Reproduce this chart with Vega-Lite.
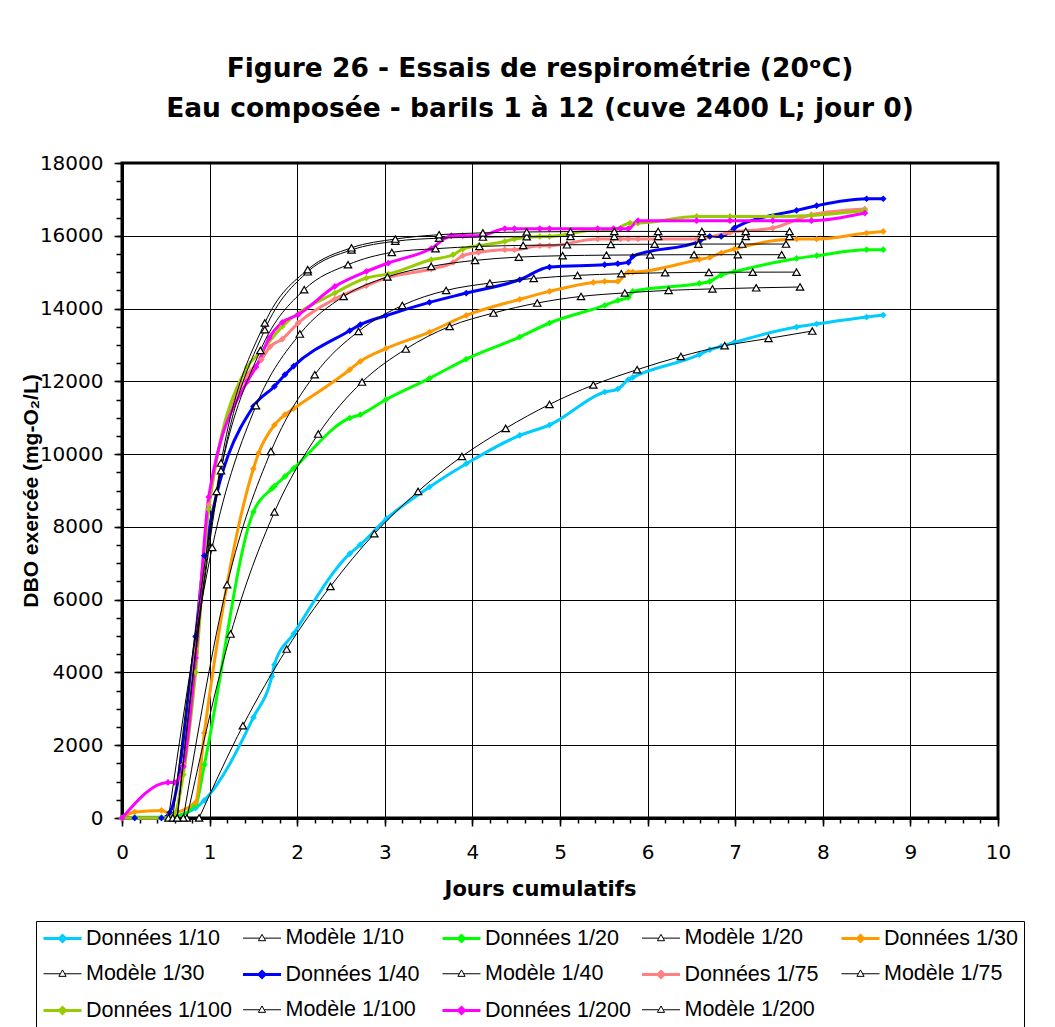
{
  "$schema": "https://vega.github.io/schema/vega-lite/v6.json",
  "width": 876,
  "height": 655,
  "autosize": {"type": "none"},
  "padding": {"left": 122, "top": 163, "right": 57, "bottom": 209},
  "background": "white",
  "title": {
    "text": ["Figure 26 - Essais de respirométrie (20ᵒC)", "Eau composée - barils 1 à 12 (cuve 2400 L; jour 0)"],
    "font": "DejaVu Sans", "fontSize": 26.5, "fontWeight": "bold", "color": "#000",
    "lineHeight": 40, "anchor": "middle", "dx": -20, "offset": 31
  },
  "config": {"view": {"stroke": "#000", "strokeWidth": 3}},
  "datasets": {
    "pts": [
      {"s":"Données 1/10","t":0,"v":0},{"s":"Données 1/10","t":0.145,"v":0},{"s":"Données 1/10","t":0.45,"v":0},{"s":"Données 1/10","t":0.545,"v":20},{"s":"Données 1/10","t":0.84,"v":275},{"s":"Données 1/10","t":0.94,"v":484},{"s":"Données 1/10","t":1.5,"v":2765},{"s":"Données 1/10","t":1.71,"v":3890},{"s":"Données 1/10","t":1.74,"v":4213},{"s":"Données 1/10","t":1.96,"v":5065},{"s":"Données 1/10","t":2.6,"v":7263},{"s":"Données 1/10","t":2.72,"v":7510},{"s":"Données 1/10","t":3.02,"v":8225},{"s":"Données 1/10","t":3.51,"v":9096},{"s":"Données 1/10","t":3.93,"v":9736},{"s":"Données 1/10","t":4.54,"v":10515},{"s":"Données 1/10","t":4.88,"v":10800},{"s":"Données 1/10","t":5.51,"v":11707},{"s":"Données 1/10","t":5.66,"v":11789},{"s":"Données 1/10","t":5.78,"v":12045},{"s":"Données 1/10","t":5.83,"v":12108},{"s":"Données 1/10","t":6.59,"v":12732},{"s":"Données 1/10","t":6.71,"v":12869},{"s":"Données 1/10","t":6.84,"v":12960},{"s":"Données 1/10","t":6.99,"v":13070},{"s":"Données 1/10","t":7.7,"v":13492},{"s":"Données 1/10","t":7.93,"v":13575},{"s":"Données 1/10","t":8.5,"v":13767},{"s":"Données 1/10","t":8.69,"v":13822},
      {"s":"Modèle 1/10","t":0.88,"v":0},{"s":"Modèle 1/10","t":1.38,"v":2536},{"s":"Modèle 1/10","t":1.88,"v":4643},{"s":"Modèle 1/10","t":2.38,"v":6365},{"s":"Modèle 1/10","t":2.88,"v":7813},{"s":"Modèle 1/10","t":3.38,"v":8976},{"s":"Modèle 1/10","t":3.88,"v":9937},{"s":"Modèle 1/10","t":4.38,"v":10707},{"s":"Modèle 1/10","t":4.88,"v":11366},{"s":"Modèle 1/10","t":5.38,"v":11899},{"s":"Modèle 1/10","t":5.88,"v":12320},{"s":"Modèle 1/10","t":6.38,"v":12685},{"s":"Modèle 1/10","t":6.88,"v":12979},{"s":"Modèle 1/10","t":7.38,"v":13179},{"s":"Modèle 1/10","t":7.88,"v":13382},
      {"s":"Données 1/20","t":0,"v":0},{"s":"Données 1/20","t":0.145,"v":20},{"s":"Données 1/20","t":0.45,"v":20},{"s":"Données 1/20","t":0.545,"v":0},{"s":"Données 1/20","t":0.84,"v":350},{"s":"Données 1/20","t":0.94,"v":1465},{"s":"Données 1/20","t":1.5,"v":8409},{"s":"Données 1/20","t":1.71,"v":9050},{"s":"Données 1/20","t":1.74,"v":9120},{"s":"Données 1/20","t":1.86,"v":9388},{"s":"Données 1/20","t":1.96,"v":9610},{"s":"Données 1/20","t":2.6,"v":10992},{"s":"Données 1/20","t":2.72,"v":11083},{"s":"Données 1/20","t":3.01,"v":11495},{"s":"Données 1/20","t":3.51,"v":12081},{"s":"Données 1/20","t":3.93,"v":12613},{"s":"Données 1/20","t":4.54,"v":13218},{"s":"Données 1/20","t":4.88,"v":13603},{"s":"Données 1/20","t":5.51,"v":14087},{"s":"Données 1/20","t":5.66,"v":14224},{"s":"Données 1/20","t":5.78,"v":14306},{"s":"Données 1/20","t":5.83,"v":14471},{"s":"Données 1/20","t":6.59,"v":14690},{"s":"Données 1/20","t":6.71,"v":14746},{"s":"Données 1/20","t":6.84,"v":14921},{"s":"Données 1/20","t":6.99,"v":15012},{"s":"Données 1/20","t":7.7,"v":15378},{"s":"Données 1/20","t":7.93,"v":15452},{"s":"Données 1/20","t":8.5,"v":15617},{"s":"Données 1/20","t":8.69,"v":15617},
      {"s":"Modèle 1/20","t":0.74,"v":0},{"s":"Modèle 1/20","t":1.24,"v":5056},{"s":"Modèle 1/20","t":1.74,"v":8409},{"s":"Modèle 1/20","t":2.24,"v":10552},{"s":"Modèle 1/20","t":2.74,"v":11981},{"s":"Modèle 1/20","t":3.24,"v":12888},{"s":"Modèle 1/20","t":3.74,"v":13509},{"s":"Modèle 1/20","t":4.24,"v":13877},{"s":"Modèle 1/20","t":4.74,"v":14152},{"s":"Modèle 1/20","t":5.24,"v":14334},{"s":"Modèle 1/20","t":5.74,"v":14430},{"s":"Modèle 1/20","t":6.24,"v":14500},{"s":"Modèle 1/20","t":6.74,"v":14540},{"s":"Modèle 1/20","t":7.24,"v":14570},{"s":"Modèle 1/20","t":7.74,"v":14592},
      {"s":"Données 1/30","t":0,"v":0},{"s":"Données 1/30","t":0.145,"v":165},{"s":"Données 1/30","t":0.45,"v":209},{"s":"Données 1/30","t":0.545,"v":130},{"s":"Données 1/30","t":0.84,"v":429},{"s":"Données 1/30","t":0.94,"v":2336},{"s":"Données 1/30","t":1.5,"v":9599},{"s":"Données 1/30","t":1.56,"v":10030},{"s":"Données 1/30","t":1.74,"v":10800},{"s":"Données 1/30","t":1.86,"v":11083},{"s":"Données 1/30","t":1.96,"v":11250},{"s":"Données 1/30","t":2.6,"v":12320},{"s":"Données 1/30","t":2.72,"v":12548},{"s":"Données 1/30","t":3.01,"v":12897},{"s":"Données 1/30","t":3.51,"v":13355},{"s":"Données 1/30","t":3.93,"v":13812},{"s":"Données 1/30","t":4.54,"v":14252},{"s":"Données 1/30","t":4.88,"v":14471},{"s":"Données 1/30","t":5.38,"v":14719},{"s":"Données 1/30","t":5.51,"v":14746},{"s":"Données 1/30","t":5.66,"v":14746},{"s":"Données 1/30","t":5.78,"v":15004},{"s":"Données 1/30","t":5.83,"v":15004},{"s":"Données 1/30","t":6.59,"v":15350},{"s":"Données 1/30","t":6.71,"v":15406},{"s":"Données 1/30","t":6.84,"v":15526},{"s":"Données 1/30","t":6.99,"v":15636},{"s":"Données 1/30","t":7.7,"v":15911},{"s":"Données 1/30","t":7.93,"v":15911},{"s":"Données 1/30","t":8.5,"v":16076},{"s":"Données 1/30","t":8.69,"v":16120},
      {"s":"Modèle 1/30","t":0.7,"v":0},{"s":"Modèle 1/30","t":1.2,"v":6411},{"s":"Modèle 1/30","t":1.7,"v":10075},{"s":"Modèle 1/30","t":2.2,"v":12182},{"s":"Modèle 1/30","t":2.7,"v":13373},{"s":"Modèle 1/30","t":3.2,"v":14087},{"s":"Modèle 1/30","t":3.7,"v":14498},{"s":"Modèle 1/30","t":4.2,"v":14700},{"s":"Modèle 1/30","t":4.7,"v":14828},{"s":"Modèle 1/30","t":5.2,"v":14911},{"s":"Modèle 1/30","t":5.7,"v":14957},{"s":"Modèle 1/30","t":6.2,"v":14985},{"s":"Modèle 1/30","t":6.7,"v":14995},{"s":"Modèle 1/30","t":7.2,"v":15000},{"s":"Modèle 1/30","t":7.7,"v":15002},
      {"s":"Données 1/40","t":0,"v":0},{"s":"Données 1/40","t":0.145,"v":0},{"s":"Données 1/40","t":0.45,"v":0},{"s":"Données 1/40","t":0.545,"v":150},{"s":"Données 1/40","t":0.84,"v":4991},{"s":"Données 1/40","t":0.94,"v":7208},{"s":"Données 1/40","t":1.5,"v":11311},{"s":"Données 1/40","t":1.74,"v":11860},{"s":"Données 1/40","t":1.86,"v":12182},{"s":"Données 1/40","t":1.96,"v":12420},{"s":"Données 1/40","t":2.6,"v":13392},{"s":"Données 1/40","t":2.72,"v":13557},{"s":"Données 1/40","t":3.01,"v":13803},{"s":"Données 1/40","t":3.51,"v":14170},{"s":"Données 1/40","t":3.93,"v":14426},{"s":"Données 1/40","t":4.54,"v":14792},{"s":"Données 1/40","t":4.88,"v":15141},{"s":"Données 1/40","t":5.51,"v":15205},{"s":"Données 1/40","t":5.66,"v":15232},{"s":"Données 1/40","t":5.78,"v":15268},{"s":"Données 1/40","t":5.83,"v":15433},{"s":"Données 1/40","t":6.59,"v":15845},{"s":"Données 1/40","t":6.71,"v":15983},{"s":"Données 1/40","t":6.84,"v":15983},{"s":"Données 1/40","t":6.99,"v":16213},{"s":"Données 1/40","t":7.7,"v":16697},{"s":"Données 1/40","t":7.93,"v":16826},{"s":"Données 1/40","t":8.5,"v":17018},{"s":"Données 1/40","t":8.69,"v":17018},
      {"s":"Modèle 1/40","t":0.53,"v":0},{"s":"Modèle 1/40","t":1.03,"v":7437},{"s":"Modèle 1/40","t":1.53,"v":11330},{"s":"Modèle 1/40","t":2.03,"v":13300},{"s":"Modèle 1/40","t":2.53,"v":14334},{"s":"Modèle 1/40","t":3.03,"v":14870},{"s":"Modèle 1/40","t":3.53,"v":15159},{"s":"Modèle 1/40","t":4.03,"v":15324},{"s":"Modèle 1/40","t":4.53,"v":15415},{"s":"Modèle 1/40","t":5.03,"v":15452},{"s":"Modèle 1/40","t":5.53,"v":15468},{"s":"Modèle 1/40","t":6.03,"v":15476},{"s":"Modèle 1/40","t":6.53,"v":15480},{"s":"Modèle 1/40","t":7.03,"v":15480},{"s":"Modèle 1/40","t":7.53,"v":15480},
      {"s":"Données 1/75","t":0,"v":0},{"s":"Données 1/75","t":0.525,"v":0},{"s":"Données 1/75","t":0.6,"v":0},{"s":"Données 1/75","t":0.7,"v":1465},{"s":"Données 1/75","t":0.84,"v":4643},{"s":"Données 1/75","t":0.99,"v":8600},{"s":"Données 1/75","t":1.43,"v":12182},{"s":"Données 1/75","t":1.59,"v":12590},{"s":"Données 1/75","t":1.69,"v":12950},{"s":"Données 1/75","t":1.83,"v":13160},{"s":"Données 1/75","t":2.01,"v":13600},{"s":"Données 1/75","t":2.43,"v":14262},{"s":"Données 1/75","t":2.79,"v":14628},{"s":"Données 1/75","t":3.04,"v":14856},{"s":"Données 1/75","t":3.53,"v":15086},{"s":"Données 1/75","t":3.78,"v":15268},{"s":"Données 1/75","t":3.89,"v":15452},{"s":"Données 1/75","t":4.07,"v":15543},{"s":"Données 1/75","t":4.37,"v":15617},{"s":"Données 1/75","t":4.48,"v":15617},{"s":"Données 1/75","t":4.77,"v":15727},{"s":"Données 1/75","t":4.88,"v":15727},{"s":"Données 1/75","t":5.43,"v":15911},{"s":"Données 1/75","t":5.61,"v":15911},{"s":"Données 1/75","t":5.69,"v":15911},{"s":"Données 1/75","t":5.78,"v":15911},{"s":"Données 1/75","t":5.89,"v":15911},{"s":"Données 1/75","t":6.56,"v":15911},{"s":"Données 1/75","t":6.94,"v":16093},{"s":"Données 1/75","t":7.43,"v":16213},{"s":"Données 1/75","t":7.87,"v":16579},{"s":"Données 1/75","t":8.48,"v":16735},
      {"s":"Modèle 1/75","t":0.58,"v":0},{"s":"Modèle 1/75","t":1.08,"v":8975},{"s":"Modèle 1/75","t":1.58,"v":12850},{"s":"Modèle 1/75","t":2.08,"v":14518},{"s":"Modèle 1/75","t":2.58,"v":15205},{"s":"Modèle 1/75","t":3.08,"v":15543},{"s":"Modèle 1/75","t":3.58,"v":15645},{"s":"Modèle 1/75","t":4.08,"v":15708},{"s":"Modèle 1/75","t":4.58,"v":15736},{"s":"Modèle 1/75","t":5.08,"v":15752},{"s":"Modèle 1/75","t":5.58,"v":15762},{"s":"Modèle 1/75","t":6.08,"v":15768},{"s":"Modèle 1/75","t":6.58,"v":15772},{"s":"Modèle 1/75","t":7.08,"v":15773},{"s":"Modèle 1/75","t":7.58,"v":15773},
      {"s":"Données 1/100","t":0,"v":0},{"s":"Données 1/100","t":0.525,"v":0},{"s":"Données 1/100","t":0.6,"v":100},{"s":"Données 1/100","t":0.7,"v":1190},{"s":"Données 1/100","t":0.84,"v":4002},{"s":"Données 1/100","t":0.99,"v":8491},{"s":"Données 1/100","t":1.43,"v":12393},{"s":"Données 1/100","t":1.59,"v":12823},{"s":"Données 1/100","t":1.83,"v":13509},{"s":"Données 1/100","t":2.43,"v":14427},{"s":"Données 1/100","t":2.79,"v":14839},{"s":"Données 1/100","t":3.04,"v":14949},{"s":"Données 1/100","t":3.53,"v":15342},{"s":"Données 1/100","t":3.78,"v":15480},{"s":"Données 1/100","t":3.89,"v":15636},{"s":"Données 1/100","t":4.07,"v":15727},{"s":"Données 1/100","t":4.37,"v":15845},{"s":"Données 1/100","t":4.48,"v":15911},{"s":"Données 1/100","t":4.77,"v":15983},{"s":"Données 1/100","t":4.88,"v":15983},{"s":"Données 1/100","t":5.43,"v":16166},{"s":"Données 1/100","t":5.61,"v":16166},{"s":"Données 1/100","t":5.8,"v":16350},{"s":"Données 1/100","t":5.89,"v":16350},{"s":"Données 1/100","t":6.56,"v":16532},{"s":"Données 1/100","t":6.94,"v":16532},{"s":"Données 1/100","t":7.43,"v":16532},{"s":"Données 1/100","t":7.87,"v":16560},{"s":"Données 1/100","t":8.48,"v":16697},
      {"s":"Modèle 1/100","t":0.63,"v":0},{"s":"Modèle 1/100","t":1.13,"v":9544},{"s":"Modèle 1/100","t":1.63,"v":13418},{"s":"Modèle 1/100","t":2.12,"v":15010},{"s":"Modèle 1/100","t":2.62,"v":15610},{"s":"Modèle 1/100","t":3.12,"v":15850},{"s":"Modèle 1/100","t":3.62,"v":15935},{"s":"Modèle 1/100","t":4.12,"v":15965},{"s":"Modèle 1/100","t":4.62,"v":15975},{"s":"Modèle 1/100","t":5.12,"v":15980},{"s":"Modèle 1/100","t":5.62,"v":15983},{"s":"Modèle 1/100","t":6.12,"v":15983},{"s":"Modèle 1/100","t":6.62,"v":15983},{"s":"Modèle 1/100","t":7.12,"v":15983},{"s":"Modèle 1/100","t":7.62,"v":15983},
      {"s":"Données 1/200","t":0,"v":0},{"s":"Données 1/200","t":0.525,"v":979},{"s":"Données 1/200","t":0.6,"v":979},{"s":"Données 1/200","t":0.7,"v":1418},{"s":"Données 1/200","t":0.84,"v":4397},{"s":"Données 1/200","t":0.99,"v":8821},{"s":"Données 1/200","t":1.43,"v":11998},{"s":"Données 1/200","t":1.53,"v":12393},{"s":"Données 1/200","t":1.68,"v":13190},{"s":"Données 1/200","t":1.83,"v":13619},{"s":"Données 1/200","t":2.01,"v":13831},{"s":"Données 1/200","t":2.43,"v":14609},{"s":"Données 1/200","t":2.79,"v":15021},{"s":"Données 1/200","t":3.04,"v":15251},{"s":"Données 1/200","t":3.53,"v":15650},{"s":"Données 1/200","t":3.76,"v":16002},{"s":"Données 1/200","t":3.89,"v":16002},{"s":"Données 1/200","t":4.1,"v":16002},{"s":"Données 1/200","t":4.37,"v":16194},{"s":"Données 1/200","t":4.48,"v":16194},{"s":"Données 1/200","t":4.77,"v":16194},{"s":"Données 1/200","t":4.88,"v":16194},{"s":"Données 1/200","t":5.43,"v":16194},{"s":"Données 1/200","t":5.61,"v":16194},{"s":"Données 1/200","t":5.69,"v":16194},{"s":"Données 1/200","t":5.78,"v":16194},{"s":"Données 1/200","t":5.89,"v":16414},{"s":"Données 1/200","t":6.56,"v":16414},{"s":"Données 1/200","t":6.94,"v":16414},{"s":"Données 1/200","t":7.43,"v":16414},{"s":"Données 1/200","t":7.87,"v":16414},{"s":"Données 1/200","t":8.48,"v":16625},
      {"s":"Modèle 1/200","t":0.63,"v":0},{"s":"Modèle 1/200","t":1.13,"v":9755},{"s":"Modèle 1/200","t":1.63,"v":13603},{"s":"Modèle 1/200","t":2.12,"v":15070},{"s":"Modèle 1/200","t":2.62,"v":15670},{"s":"Modèle 1/200","t":3.12,"v":15910},{"s":"Modèle 1/200","t":3.62,"v":16030},{"s":"Modèle 1/200","t":4.12,"v":16080},{"s":"Modèle 1/200","t":4.62,"v":16105},{"s":"Modèle 1/200","t":5.12,"v":16115},{"s":"Modèle 1/200","t":5.62,"v":16120},{"s":"Modèle 1/200","t":6.12,"v":16120},{"s":"Modèle 1/200","t":6.62,"v":16120},{"s":"Modèle 1/200","t":7.12,"v":16120},{"s":"Modèle 1/200","t":7.62,"v":16120}
    ]
  },
  "data": {"name": "pts"},
  "resolve": {"scale": {"x": "independent", "y": "independent"}},
  "layer": [
    {
      "transform": [{"filter": "indexof(datum.s, 'Don') === 0"}],
      "mark": {"type": "line", "strokeWidth": 3, "interpolate": "monotone"},
      "encoding": {
        "x": {"field": "t", "type": "quantitative", "scale": {"domain": [0, 10], "nice": false, "zero": false},
          "axis": {"grid": true, "gridColor": "#000", "gridWidth": 1, "tickCount": 10, "domainColor": "#000", "domainWidth": 3,
            "tickColor": "#000", "tickWidth": 1.5, "tickSize": 8, "labelFont": "DejaVu Sans", "labelFontSize": 20, "labelColor": "#000",
            "labelPadding": 16, "labelFlush": false, "format": "d",
            "title": "Jours cumulatifs", "titleFont": "DejaVu Sans", "titleFontSize": 21, "titleFontWeight": "bold",
            "titleColor": "#000", "titleX": 418, "titleY": 77, "titleBaseline": "alphabetic"}},
        "y": {"field": "v", "type": "quantitative", "scale": {"domain": [0, 18000], "nice": false, "zero": false},
          "axis": {"grid": true, "gridColor": "#000", "gridWidth": 1, "tickCount": 9, "domainColor": "#000", "domainWidth": 3,
            "tickColor": "#000", "tickWidth": 1.5, "tickSize": 8, "labelFont": "DejaVu Sans", "labelFontSize": 20, "labelColor": "#000",
            "labelPadding": 11, "labelFlush": false, "format": "d",
            "title": "DBO exercée (mg-O₂/L)", "titleFont": "Liberation Sans", "titleFontSize": 21, "titleFontWeight": "bold",
            "titleColor": "#000", "titlePadding": -2}},
        "color": {"field": "s", "type": "nominal",
          "scale": {
            "domain": ["Données 1/10","Modèle 1/10","Données 1/20","Modèle 1/20","Données 1/30","Modèle 1/30","Données 1/40","Modèle 1/40","Données 1/75","Modèle 1/75","Données 1/100","Modèle 1/100","Données 1/200","Modèle 1/200"],
            "range": ["#00CCFF","#000000","#00FF00","#000000","#FF9900","#000000","#0000FF","#000000","#FF8080","#000000","#99CC00","#000000","#FF00FF","#000000"]
          },
          "legend": {
            "orient": "none", "legendX": -86, "legendY": 758, "columns": 5, "direction": "horizontal", "title": null,
            "strokeColor": "#000", "padding": 6, "gridAlign": "all", "columnPadding": 4.5, "rowPadding": 13,
            "symbolSize": 400, "symbolOffset": 9, "labelOffset": 12, "symbolOpacity": 1,
            "symbolType": "M-1.9,0H1.9M0,-0.3L0.3,0L0,0.3L-0.3,0Z", "symbolStrokeWidth": 2.5,
            "labelFont": "Liberation Sans", "labelFontSize": 21.5, "labelColor": "#000", "labelLimit": 400
          }
        }
      }
    },
    {
      "transform": [{"filter": "indexof(datum.s, 'Don') === 0"}],
      "mark": {"type": "point", "shape": "diamond", "filled": true, "size": 45, "opacity": 1},
      "encoding": {
        "x": {"field": "t", "type": "quantitative", "scale": {"domain": [0, 10], "nice": false, "zero": false}, "axis": null},
        "y": {"field": "v", "type": "quantitative", "scale": {"domain": [0, 18000], "nice": false, "zero": false}, "axis": null},
        "fill": {"field": "s", "type": "nominal",
          "scale": {
            "domain": ["Données 1/10","Modèle 1/10","Données 1/20","Modèle 1/20","Données 1/30","Modèle 1/30","Données 1/40","Modèle 1/40","Données 1/75","Modèle 1/75","Données 1/100","Modèle 1/100","Données 1/200","Modèle 1/200"],
            "range": ["#00CCFF","#FFFFFF","#00FF00","#FFFFFF","#FF9900","#FFFFFF","#0000FF","#FFFFFF","#FF8080","#FFFFFF","#99CC00","#FFFFFF","#FF00FF","#FFFFFF"]
          }
        }
      }
    },
    {
      "transform": [{"filter": "indexof(datum.s, 'Mod') === 0"}],
      "mark": {"type": "line", "color": "#000", "strokeWidth": 1, "interpolate": "monotone"},
      "encoding": {
        "x": {"field": "t", "type": "quantitative", "scale": {"domain": [0, 10], "nice": false, "zero": false}, "axis": null},
        "y": {"field": "v", "type": "quantitative", "scale": {"domain": [0, 18000], "nice": false, "zero": false}, "axis": null},
        "detail": {"field": "s", "type": "nominal"}
      }
    },
    {
      "transform": [{"filter": "indexof(datum.s, 'Mod') === 0"}],
      "mark": {"type": "point", "shape": "triangle-up", "filled": true, "fill": "#ffffff", "stroke": "#000", "strokeWidth": 1.2, "size": 55, "opacity": 1},
      "encoding": {
        "x": {"field": "t", "type": "quantitative", "scale": {"domain": [0, 10], "nice": false, "zero": false},
          "axis": {"orient": "bottom", "tickCount": 50, "labels": false, "grid": false, "domain": false, "tickSize": 5, "tickColor": "#000", "tickWidth": 1.5, "title": null}},
        "y": {"field": "v", "type": "quantitative", "scale": {"domain": [0, 18000], "nice": false, "zero": false},
          "axis": {"orient": "left", "tickCount": 36, "labels": false, "grid": false, "domain": false, "tickSize": 6, "tickColor": "#000", "tickWidth": 1.5, "title": null}}
      }
    },
    {
      "mark": {"type": "point", "filled": false, "fillOpacity": 0, "strokeOpacity": 0},
      "encoding": {
        "shape": {"field": "s", "type": "nominal",
          "scale": {
            "domain": ["Données 1/10","Modèle 1/10","Données 1/20","Modèle 1/20","Données 1/30","Modèle 1/30","Données 1/40","Modèle 1/40","Données 1/75","Modèle 1/75","Données 1/100","Modèle 1/100","Données 1/200","Modèle 1/200"],
            "range": ["M-1.9,0H1.9M0,-0.3L0.3,0L0,0.3L-0.3,0Z","M-1.9,0H-0.22M0.22,0H1.9M0,-0.38L0.36,0.26L-0.36,0.26Z","M-1.9,0H1.9M0,-0.3L0.3,0L0,0.3L-0.3,0Z","M-1.9,0H-0.22M0.22,0H1.9M0,-0.38L0.36,0.26L-0.36,0.26Z","M-1.9,0H1.9M0,-0.3L0.3,0L0,0.3L-0.3,0Z","M-1.9,0H-0.22M0.22,0H1.9M0,-0.38L0.36,0.26L-0.36,0.26Z","M-1.9,0H1.9M0,-0.3L0.3,0L0,0.3L-0.3,0Z","M-1.9,0H-0.22M0.22,0H1.9M0,-0.38L0.36,0.26L-0.36,0.26Z","M-1.9,0H1.9M0,-0.3L0.3,0L0,0.3L-0.3,0Z","M-1.9,0H-0.22M0.22,0H1.9M0,-0.38L0.36,0.26L-0.36,0.26Z","M-1.9,0H1.9M0,-0.3L0.3,0L0,0.3L-0.3,0Z","M-1.9,0H-0.22M0.22,0H1.9M0,-0.38L0.36,0.26L-0.36,0.26Z","M-1.9,0H1.9M0,-0.3L0.3,0L0,0.3L-0.3,0Z","M-1.9,0H-0.22M0.22,0H1.9M0,-0.38L0.36,0.26L-0.36,0.26Z"]
          }
        },
        "strokeWidth": {"field": "s", "type": "ordinal",
          "scale": {
            "type": "ordinal",
            "domain": ["Données 1/10","Modèle 1/10","Données 1/20","Modèle 1/20","Données 1/30","Modèle 1/30","Données 1/40","Modèle 1/40","Données 1/75","Modèle 1/75","Données 1/100","Modèle 1/100","Données 1/200","Modèle 1/200"],
            "range": [3, 1, 3, 1, 3, 1, 3, 1, 3, 1, 3, 1, 3, 1]
          }
        }
      }
    }
  ]
}
